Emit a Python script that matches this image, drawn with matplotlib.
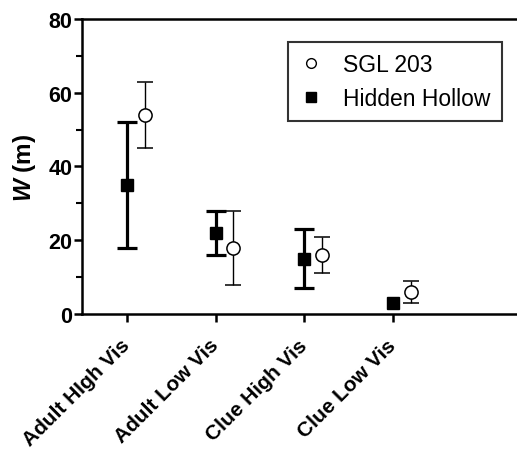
import matplotlib.pyplot as plt
from matplotlib.lines import Line2D

categories = ["Adult HIgh Vis", "Adult Low Vis", "Clue High Vis", "Clue Low Vis"]

hh_mean = [35, 22, 15, 3]
hh_low = [18, 16, 7, 3]
hh_high = [52, 28, 23, 3]

sgl_mean = [54, 18, 16, 6]
sgl_low = [45, 8, 11, 3]
sgl_high = [63, 28, 21, 9]

plt.rcParams["font.family"] = ["Liberation Sans", "DejaVu Sans"]
plt.rcParams["mathtext.fontset"] = "custom"
plt.rcParams["mathtext.bfit"] = "Liberation Sans:italic:bold"
plt.rcParams["mathtext.bf"] = "Liberation Sans:bold"
plt.rcParams["mathtext.rm"] = "Liberation Sans"

fig = plt.figure(figsize=(5.17, 4.52), dpi=100)
ax = fig.add_axes([0.1586, 0.303, 0.8414, 0.653])

x = list(range(len(categories)))
x_sgl = [i + 0.2 for i in x]

# Hidden Hollow: error bars only where the range is non-zero
hh_x = [i for i, lo, hi in zip(x, hh_low, hh_high) if hi > lo]
hh_y = [m for m, lo, hi in zip(hh_mean, hh_low, hh_high) if hi > lo]
hh_err = [[m - lo for m, lo, hi in zip(hh_mean, hh_low, hh_high) if hi > lo],
          [hi - m for m, lo, hi in zip(hh_mean, hh_low, hh_high) if hi > lo]]
sgl_err = [[m - lo for m, lo in zip(sgl_mean, sgl_low)],
           [hi - m for m, hi in zip(sgl_mean, sgl_high)]]

ax.errorbar(hh_x, hh_y, yerr=hh_err, fmt="none", ecolor="black",
            elinewidth=2.3, capsize=7, capthick=2.3, zorder=2)
ax.plot(x, hh_mean, "s", color="black", ms=8.6, zorder=3)
ax.errorbar(x_sgl, sgl_mean, yerr=sgl_err, fmt="o", color="black",
            mfc="white", mec="black", mew=1.1, ms=9.5,
            elinewidth=1.0, capsize=6, capthick=1.0, zorder=3)

ax.set_xlim(-0.51, 4.4)
ax.set_ylim(0, 80)
ax.set_yticks([0, 20, 40, 60, 80])
ax.set_yticks([10, 30, 50, 70], minor=True)
ax.set_xticks(x)
ax.set_xticklabels(categories, rotation=45, ha="right", va="center",
                   rotation_mode="anchor", fontsize=15, fontweight="bold")

for lab in ax.get_yticklabels():
    lab.set_fontweight("bold")
    lab.set_fontsize(15.5)

ax.spines["right"].set_visible(False)
for s in ["left", "bottom", "top"]:
    ax.spines[s].set_linewidth(1.8)

ax.tick_params(axis="both", which="major", direction="out", length=6,
               width=1.8, pad=1)
ax.tick_params(axis="y", which="minor", direction="out", length=4, width=1.5)
ax.tick_params(axis="x", pad=14)

ax.set_ylabel(r"$\mathbfit{W}$ (m)", fontsize=17.5, fontweight="bold")
ax.yaxis.set_label_coords(-0.1, 0.5)

handles = [
    Line2D([], [], marker="o", ls="none", mfc="white", mec="black", ms=7, mew=1.0),
    Line2D([], [], marker="s", ls="none", color="black", ms=6.5),
]
leg = ax.legend(handles, ["SGL 203", "Hidden Hollow"], loc="upper left",
                bbox_to_anchor=(0.474, 0.922), fontsize=16.5, frameon=True,
                fancybox=False, edgecolor="black", handletextpad=0.95,
                handlelength=0.96, borderpad=0.5, labelspacing=0.45,
                borderaxespad=0)
leg.get_frame().set_linewidth(1.5)

fig.savefig("out.png", dpi=100)
